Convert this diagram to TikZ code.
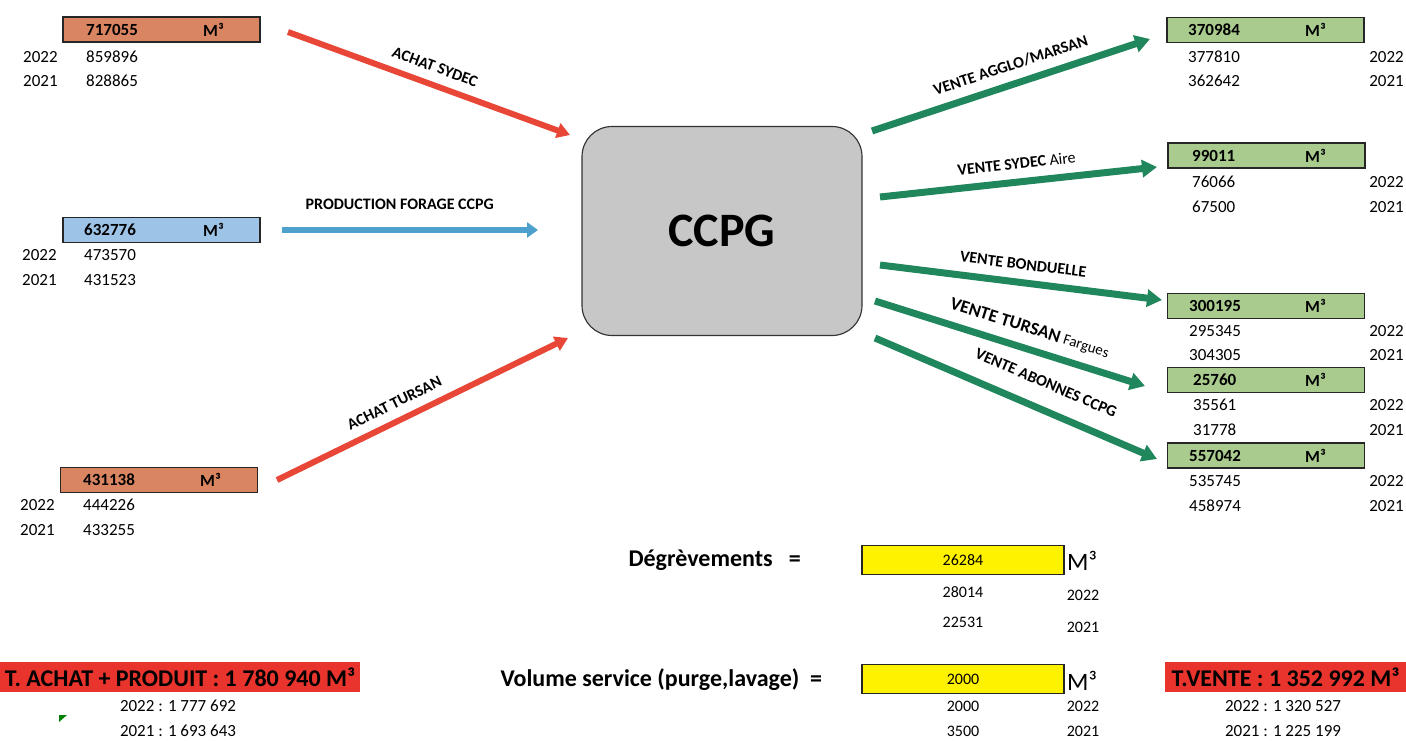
\documentclass[tikz,border=0pt]{standalone}
\usepackage{fontspec}
\setmainfont{Carlito}
\usepackage{xcolor}
\usepackage{tikz}
\usetikzlibrary{arrows.meta,calc}
\definecolor{boxOrange}{RGB}{218,133,98}
\definecolor{boxBlue}{RGB}{157,195,230}
\definecolor{boxGreen}{RGB}{169,203,142}
\definecolor{totalRed}{RGB}{232,52,44}
\definecolor{arrowRed}{RGB}{232,70,55}
\definecolor{arrowBlue}{RGB}{78,160,205}
\definecolor{arrowGreen}{RGB}{32,134,92}
\tikzstyle{tsNum} = [
    text=black,
    inner sep=0pt,
    font=\fontsize{17}{20}\selectfont
]
\tikzstyle{tsNumBold} = [
    tsNum,
    font=\bfseries\fontsize{17}{20}\selectfont
]
\tikzstyle{tsValueBox} = [
    rectangle,
    draw=black!85,
    line width=0.5mm,
    minimum width=197pt,
    minimum height=25pt,
    inner sep=0pt
]
\tikzstyle{tsArrowLabel} = [
    text=black,
    font=\bfseries\fontsize{16}{18}\selectfont,
    sloped,
    above=6pt
]
\tikzstyle{tsRedArrow} = [
    -{Triangle[length=13pt,width=15pt]},
    line width=6pt,
    draw=arrowRed
]
\tikzstyle{tsGreenArrow} = [
    -{Triangle[length=15pt,width=17pt]},
    line width=7pt,
    draw=arrowGreen
]
\tikzstyle{tsTotal} = [
    rectangle,
    fill=totalRed,
    text=black,
    minimum height=30pt,
    inner sep=0pt,
    font=\bfseries\fontsize{24}{26}\selectfont
]
\tikzstyle{tsYellowBox} = [
    rectangle,
    draw=black!85,
    line width=0.5mm,
    fill=yellow,
    minimum width=202pt,
    minimum height=29pt,
    inner sep=0pt,
    font=\fontsize{16}{19}\selectfont
]

\begin{document}
\begin{tikzpicture}[x=1pt, y=-1pt]
    \useasboundingbox (0,0) rectangle (1406,740);

    % Central node
    \node[  rectangle,
            rounded corners=30pt,
            draw=black!80,
            line width=0.4mm,
            fill=black!22,
            minimum width=280pt,
            minimum height=209pt,
            font=\bfseries\fontsize{48}{54}\selectfont] (ccpg) at (722,231) {CCPG};

    % Left boxes
    \node[tsValueBox, fill=boxOrange] (vSydec) at (161.5,29.5) {};
    \node[tsNumBold, anchor=west] (vSydecNum) at (86,29.5) {717055};
    \node[tsNumBold, anchor=west] (vSydecUnit) at (203,29.5) {M³};
    \node[tsNum, anchor=west] (ySydecA) at (23,57) {2022};
    \node[tsNum, anchor=west] (nSydecA) at (86,57) {859896};
    \node[tsNum, anchor=west] (ySydecB) at (23,81) {2021};
    \node[tsNum, anchor=west] (nSydecB) at (86,81) {828865};

    \node[tsValueBox, fill=boxBlue] (vProd) at (161.5,230) {};
    \node[tsNumBold, anchor=west] (vProdNum) at (84,230) {632776};
    \node[tsNumBold, anchor=west] (vProdUnit) at (203,230) {M³};
    \node[tsNum, anchor=west] (yProdA) at (22,255) {2022};
    \node[tsNum, anchor=west] (nProdA) at (84,255) {473570};
    \node[tsNum, anchor=west] (yProdB) at (22,280) {2021};
    \node[tsNum, anchor=west] (nProdB) at (84,280) {431523};

    \node[tsValueBox, fill=boxOrange] (vTursan) at (159,480) {};
    \node[tsNumBold, anchor=west] (vTursanNum) at (83,480) {431138};
    \node[tsNumBold, anchor=west] (vTursanUnit) at (200,480) {M³};
    \node[tsNum, anchor=west] (yTursanA) at (20,505) {2022};
    \node[tsNum, anchor=west] (nTursanA) at (83,505) {444226};
    \node[tsNum, anchor=west] (yTursanB) at (20,530) {2021};
    \node[tsNum, anchor=west] (nTursanB) at (83,530) {433255};

    % Incoming arrows
    \coordinate (inSydecA) at (288,32);
    \coordinate (inSydecB) at (570,135);
    \coordinate (inProdA) at (282,230);
    \coordinate (inProdB) at (538,230);
    \coordinate (inTursanA) at (277,480);
    \coordinate (inTursanB) at (568,338);

    \draw[tsRedArrow] (inSydecA) -- (inSydecB)
        node[tsArrowLabel, pos=0.5] {ACHAT SYDEC};
    \draw[-{Triangle[length=11pt,width=15pt]}, line width=6pt, draw=arrowBlue] (inProdA) -- (inProdB)
        node[tsArrowLabel, pos=0.46, above=8pt] {PRODUCTION FORAGE CCPG};
    \draw[tsRedArrow] (inTursanA) -- (inTursanB)
        node[tsArrowLabel, pos=0.43] {ACHAT TURSAN};

    % Right boxes
    \node[tsValueBox, fill=boxGreen] (vAgglo) at (1265.5,30) {};
    \node[tsNumBold, anchor=west] (vAggloNum) at (1188,30) {370984};
    \node[tsNumBold, anchor=west] (vAggloUnit) at (1305,30) {M³};
    \node[tsNum, anchor=west] (nAggloA) at (1188,57) {377810};
    \node[tsNum, anchor=east] (yAggloA) at (1404,57) {2022};
    \node[tsNum, anchor=west] (nAggloB) at (1188,81) {362642};
    \node[tsNum, anchor=east] (yAggloB) at (1404,81) {2021};

    \node[tsValueBox, fill=boxGreen] (vAire) at (1266.5,155.5) {};
    \node[tsNumBold, anchor=west] (vAireNum) at (1192,155.5) {99011};
    \node[tsNumBold, anchor=west] (vAireUnit) at (1305,155.5) {M³};
    \node[tsNum, anchor=west] (nAireA) at (1192,182) {76066};
    \node[tsNum, anchor=east] (yAireA) at (1404,182) {2022};
    \node[tsNum, anchor=west] (nAireB) at (1192,207) {67500};
    \node[tsNum, anchor=east] (yAireB) at (1404,207) {2021};

    \node[tsValueBox, fill=boxGreen] (vBond) at (1266,306) {};
    \node[tsNumBold, anchor=west] (vBondNum) at (1189,306) {300195};
    \node[tsNumBold, anchor=west] (vBondUnit) at (1305,306) {M³};
    \node[tsNum, anchor=west] (nBondA) at (1189,331) {295345};
    \node[tsNum, anchor=east] (yBondA) at (1404,331) {2022};
    \node[tsNum, anchor=west] (nBondB) at (1189,355) {304305};
    \node[tsNum, anchor=east] (yBondB) at (1404,355) {2021};

    \node[tsValueBox, fill=boxGreen] (vFarg) at (1266,380) {};
    \node[tsNumBold, anchor=west] (vFargNum) at (1193,380) {25760};
    \node[tsNumBold, anchor=west] (vFargUnit) at (1305,380) {M³};
    \node[tsNum, anchor=west] (nFargA) at (1193,405) {35561};
    \node[tsNum, anchor=east] (yFargA) at (1404,405) {2022};
    \node[tsNum, anchor=west] (nFargB) at (1193,430) {31778};
    \node[tsNum, anchor=east] (yFargB) at (1404,430) {2021};

    \node[tsValueBox, fill=boxGreen] (vAbon) at (1266,455.5) {};
    \node[tsNumBold, anchor=west] (vAbonNum) at (1189,455.5) {557042};
    \node[tsNumBold, anchor=west] (vAbonUnit) at (1305,455.5) {M³};
    \node[tsNum, anchor=west] (nAbonA) at (1189,481) {535745};
    \node[tsNum, anchor=east] (yAbonA) at (1404,481) {2022};
    \node[tsNum, anchor=west] (nAbonB) at (1189,506) {458974};
    \node[tsNum, anchor=east] (yAbonB) at (1404,506) {2021};

    % Outgoing arrows
    \coordinate (outAggloA) at (872,131);
    \coordinate (outAggloB) at (1150,39);
    \coordinate (outAireA) at (880,197);
    \coordinate (outAireB) at (1157,167);
    \coordinate (outBondA) at (880,265);
    \coordinate (outBondB) at (1162,300);
    \coordinate (outFargA) at (875,301);
    \coordinate (outFargB) at (1145,386);
    \coordinate (outAbonA) at (875,338);
    \coordinate (outAbonB) at (1157,459);

    \draw[tsGreenArrow] (outAggloA) -- (outAggloB)
        node[tsArrowLabel, pos=0.52] {VENTE AGGLO/MARSAN};
    \draw[tsGreenArrow] (outAireA) -- (outAireB)
        node[tsArrowLabel, pos=0.5] {VENTE SYDEC {\mdseries Aire}};
    \draw[tsGreenArrow] (outBondA) -- (outBondB)
        node[tsArrowLabel, pos=0.5] {VENTE BONDUELLE};
    \draw[tsGreenArrow] (outFargA) -- (outFargB)
        node[tsArrowLabel, pos=0.55, font=\bfseries\fontsize{18}{20}\selectfont] {VENTE TURSAN {\mdseries\fontsize{15}{17}\selectfont Fargues}};
    \draw[tsGreenArrow] (outAbonA) -- (outAbonB)
        node[tsArrowLabel, pos=0.57, above=8pt] {VENTE ABONNES CCPG};

    % Degrevements and service volume
    \node[font=\bfseries\fontsize{24}{28}\selectfont, anchor=west] (lDegr) at (625,560) {Dégrèvements\ \ \ =};
    \node[tsYellowBox] (vDegr) at (963,560) {26284};
    \node[tsNum, anchor=west, font=\fontsize{25}{28}\selectfont] (vDegrUnit) at (1067,561) {M³};
    \node[tsNum, font=\fontsize{16}{19}\selectfont] (nDegrA) at (963,592) {28014};
    \node[tsNum, font=\fontsize{16}{19}\selectfont] (yDegrA) at (1083,595) {2022};
    \node[tsNum, font=\fontsize{16}{19}\selectfont] (nDegrB) at (963,622) {22531};
    \node[tsNum, font=\fontsize{16}{19}\selectfont] (yDegrB) at (1083,627) {2021};

    \node[font=\bfseries\fontsize{24}{28}\selectfont, anchor=west] (lServ) at (497,680) {Volume service (purge,lavage)\ \ =};
    \node[tsYellowBox] (vServ) at (963,679) {2000};
    \node[tsNum, anchor=west, font=\fontsize{25}{28}\selectfont] (vServUnit) at (1067,681) {M³};
    \node[tsNum, font=\fontsize{16}{19}\selectfont] (nServA) at (963,706) {2000};
    \node[tsNum, font=\fontsize{16}{19}\selectfont] (yServA) at (1083,706) {2022};
    \node[tsNum, font=\fontsize{16}{19}\selectfont] (nServB) at (963,731) {3500};
    \node[tsNum, font=\fontsize{16}{19}\selectfont] (yServB) at (1083,731) {2021};

    % Totals
    \node[tsTotal, minimum width=360pt] (totIn) at (180,677) {T. ACHAT + PRODUIT : 1 780 940 M³};
    \node[tsNum] (totInA) at (178,706) {2022 : 1 777 692};
    \node[tsNum] (totInB) at (178,731) {2021 : 1 693 643};
    \fill[green!50!black] (59,715) -- (67,715) -- (59,722) -- cycle;

    \node[tsTotal, minimum width=241pt] (totOut) at (1285.5,677) {T.VENTE : 1 352 992 M³};
    \node[tsNum] (totOutA) at (1283,706) {2022 : 1 320 527};
    \node[tsNum] (totOutB) at (1283,731) {2021 : 1 225 199};

\end{tikzpicture}
\end{document}
